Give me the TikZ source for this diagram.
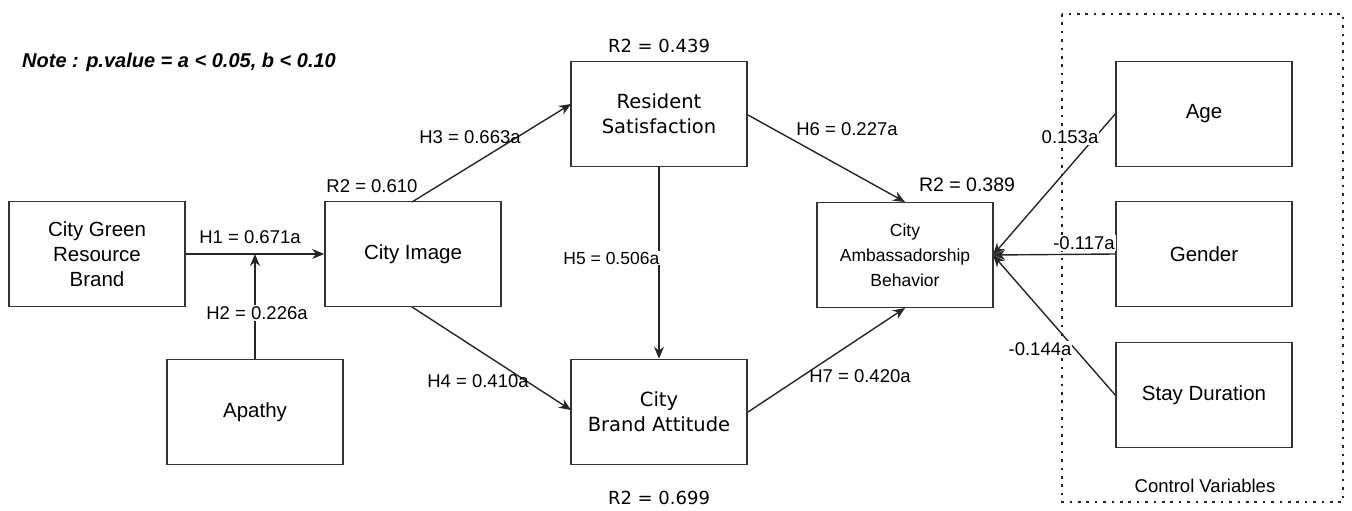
\documentclass[tikz,border=0pt]{standalone}
\usepackage{fontspec}
\setmainfont{Liberation Sans}
\newfontfamily\dv{DejaVu Sans}
\usetikzlibrary{arrows.meta}
\begin{document}
\begin{tikzpicture}[x=1pt,y=-1pt,
  box/.style={draw=black!80,line width=1.6pt,minimum width=176pt,minimum height=105pt,inner sep=0pt,align=center,font=\fontsize{20.5}{25}\selectfont,text=black},
  conn/.style={draw=black!85,line width=1.4pt,-{Stealth[length=12pt,width=10pt]}},
  lab/.style={font=\fontsize{18.5}{22}\selectfont,text=black,inner sep=1pt},
  wlab/.style={lab,fill=white}]
\useasboundingbox (0,0) rectangle (1352,511);
\node[box] (cgrb) at (97,254) {City Green\\Resource\\Brand};
\node[box] (ci) at (413,254) {City Image};
\node[box] (ap) at (255,412) {Apathy};
\node[box,font=\dv\fontsize{19.5}{25}\selectfont] (rs) at (659,114) {Resident\\Satisfaction};
\node[box,font=\dv\fontsize{19.5}{25}\selectfont] (cba) at (659,412) {City\\Brand Attitude};
\node[box,font=\fontsize{17.5}{25}\selectfont] (cab) at (905,255) {City\\Ambassadorship\\Behavior};
\node[box] (age) at (1204,114) {Age};
\node[box] (gen) at (1204,254) {Gender};
\node[box] (sd) at (1204,395) {Stay Duration};
\draw[black!85,line width=2.6pt,dash pattern=on 2.6pt off 5.8pt] (1062,14) rectangle (1343,502);
\node[lab] (cv) at (1205,486) {Control Variables};
\node[anchor=west,inner sep=0pt,font=\bfseries\itshape\fontsize{20}{22}\selectfont] (note) at (22,62) {Note : p.value = a < 0.05, b < 0.10};
\node[lab] (r1) at (372,186) {R2 = 0.610};
\node[lab,font=\dv\fontsize{18}{22}\selectfont] (r2) at (659,46) {R2 = 0.439};
\node[lab,font=\fontsize{19.5}{22}\selectfont] (r3) at (967,185) {R2 = 0.389};
\node[lab,font=\dv\fontsize{18}{22}\selectfont] (r4) at (659,498) {R2 = 0.699};
% paths
\coordinate (h2end) at (255,254);
\coordinate (ciT) at (412,202);
\coordinate (ciB) at (412,307);
\coordinate (rsW) at (571,104);
\coordinate (cbaW) at (571,410);
\coordinate (rsE) at (748,115);
\coordinate (cbaE) at (748,412);
\coordinate (cabT) at (905,202);
\coordinate (cabB) at (905,308);
\coordinate (cabE) at (993,255);
\draw[conn] (cgrb.east) -- (ci.west);
\draw[conn] (ap.north) -- (h2end);
\draw[conn] (ciT) -- (rsW);
\draw[conn] (ciB) -- (cbaW);
\draw[conn] (rs.south) -- (cba.north);
\draw[conn] (rsE) -- (cabT);
\draw[conn] (cbaE) -- (cabB);
\draw[conn] (age.west) -- (cabE);
\draw[conn] (gen.west) -- (cabE);
\draw[conn] (sd.west) -- (cabE);
% labels
\node[lab] (l1) at (250,237) {H1 = 0.671a};
\node[wlab] (l2) at (257,313) {H2 = 0.226a};
\node[lab] (l3) at (470,137) {H3 = 0.663a};
\node[lab] (l4) at (478,381) {H4 = 0.410a};
\node[wlab,anchor=east,font=\fontsize{17.5}{22}\selectfont,inner sep=0.5pt] (l5) at (660,258) {H5 = 0.506a};
\node[lab] (l6) at (847,129) {H6 = 0.227a};
\node[lab] (l7) at (860,376) {H7 = 0.420a};
\node[wlab] (l8) at (1070,137) {0.153a};
\node[wlab] (l9) at (1084,243) {-0.117a};
\node[wlab] (l10) at (1040,349) {-0.144a};
\end{tikzpicture}
\end{document}
